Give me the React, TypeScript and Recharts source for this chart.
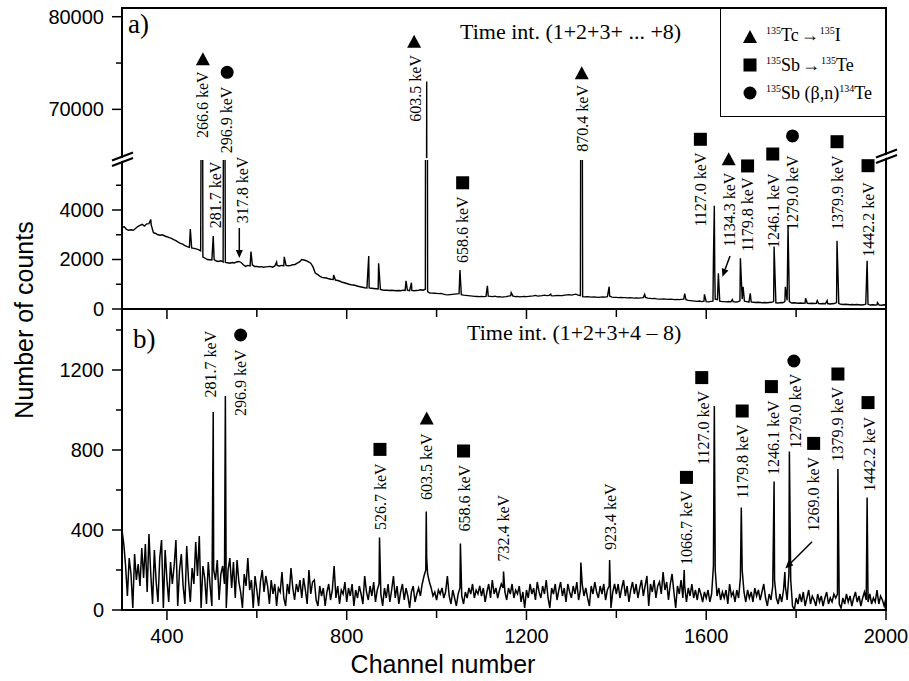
import React from 'react';
import { LineChart, Line, XAxis, YAxis, ReferenceDot, Legend } from 'recharts';

const W = 909;
const H = 681;

// ---------------- DATA ----------------
// Panel a) background, sampled every 5 channels from channel 300
const channelStartA = 300;
const channelStepA = 5;
const backgroundCountsA = [
  3300, 3320, 3220, 3180, 3200, 3180, 3250, 3330, 3380, 3420, 3350, 3440, 3450, 3400, 3080, 3050, 3000, 2980, 3000, 2950,
  2920, 2880, 2850, 2800, 2760, 2700, 2650, 2620, 2560, 2520, 2490, 2470, 2450, 2430, 2400, 2350, 2100, 2050, 2000, 1990,
  1980, 2000, 1940, 1920, 1950, 1900, 1880, 1870, 1850, 1880, 1860, 1900, 1920, 1880, 1790, 1720, 1760, 1740, 1780, 1720,
  1720, 1700, 1710, 1690, 1700, 1710, 1720, 1690, 1740, 1760, 1740, 1760, 1750, 1760, 1750, 1760, 1790, 1800, 1850, 1900,
  2000, 1980, 1950, 1900, 1850, 1700, 1450, 1400, 1330, 1280, 1260, 1250, 1220, 1200, 1190, 1170, 1150, 1120, 1080, 1060,
  1030, 1000, 980, 970, 950, 920, 900, 880, 860, 850, 850, 840, 830, 820, 810, 790, 770, 760, 760, 750,
  760, 750, 740, 750, 740, 760, 750, 760, 740, 750, 740, 750, 760, 780, 760, 800, 700, 640, 640, 635,
  630, 620, 630, 600, 580, 570, 580, 590, 600, 610, 620, 580, 560, 550, 540, 530, 520, 510, 505, 500,
  510, 500, 510, 520, 510, 500, 520, 490, 500, 480, 490, 500, 520, 540, 520, 500, 510, 490, 500, 510,
  500, 510, 520, 530, 550, 520, 530, 540, 560, 540, 550, 540, 530, 540, 550, 540, 540, 560, 570, 580,
  560, 580, 600, 560, 540, 500, 490, 500, 490, 480, 490, 480, 470, 480, 490, 480, 500, 520, 480, 470,
  470, 460, 470, 460, 460, 450, 460, 450, 440, 450, 440, 450, 460, 470, 440, 430, 420, 430, 410, 400,
  400, 410, 400, 390, 400, 390, 380, 390, 380, 390, 400, 380, 350, 340, 330, 320, 310, 320, 300, 320,
  300, 290, 310, 320, 400, 380, 320, 300, 300, 290, 300, 290, 300, 280, 290, 330, 400, 320, 300, 280,
  290, 270, 260, 270, 260, 250, 260, 250, 260, 270, 300, 250, 240, 260, 250, 300, 350, 300, 240, 250,
  240, 230, 240, 230, 240, 230, 220, 230, 220, 230, 220, 210, 220, 210, 220, 200, 210, 220, 260, 220,
  190, 180, 190, 180, 170, 180, 170, 180, 170, 160, 170, 200, 190, 160, 170, 160, 170, 160, 150, 170,
  160,
];
const peakChannelsA = [
  364, 452, 477, 478, 479, 503, 526, 528, 529, 587, 644, 661, 771, 849, 871, 932, 944, 976, 978, 979,
  1052, 1113, 1166, 1254, 1321, 1322, 1324, 1384, 1463, 1552, 1596, 1616, 1618, 1619, 1627, 1658, 1676, 1682, 1698, 1751,
  1776, 1782, 1821, 1847, 1869, 1891, 1958, 1981,
];
const peakCountsA = [
  3620, 3230, 12000, 20000, 12000, 2950, 10000, 20000, 8000, 2320, 1900, 2110, 1370, 2140, 1850, 1140, 1060, 20000, 73000, 20000,
  1575, 940, 660, 600, 12000, 20000, 10000, 900, 590, 620, 590, 2000, 4170, 1500, 1440, 380, 2050, 900, 635, 2520,
  900, 3350, 430, 340, 340, 2760, 1950, 260,
];

// Panel b) background, sampled every 4 channels from channel 300
const channelStartB = 300;
const channelStepB = 4;
const backgroundCountsB = [
  400, 330, 220, 70, 260, 180, 10, 280, 150, 230, 120, 310, 160, 330, 90, 380, 180, 30, 300, 140, 40, 260, 350, 10, 300,
  150, 40, 240, 130, 220, 350, 20, 200, 280, 120, 30, 320, 150, 40, 210, 130, 340, 170, 370, 10, 220, 160, 30, 240, 120,
  20, 200, 150, 250, 50, 180, 220, 130, 10, 200, 260, 110, 240, 60, 250, 140, 90, 10, 180, 120, 260, 100, 150, 10, 170,
  100, 20, 140, 200, 90, 170, 120, 30, 150, 80, 130, 20, 110, 90, 190, 60, 20, 130, 80, 210, 110, 50, 130, 90, 150,
  60, 160, 100, 30, 200, 80, 140, 150, 50, 20, 120, 70, 110, 20, 90, 130, 50, 100, 220, 60, 120, 30, 100, 80, 140,
  40, 110, 70, 130, 20, 100, 60, 120, 80, 30, 170, 90, 50, 120, 70, 140, 40, 100, 130, 80, 20, 110, 60, 130, 40,
  100, 170, 60, 120, 30, 90, 130, 50, 110, 70, 10, 90, 120, 40, 80, 110, 70, 130, 170, 200, 180, 140, 110, 70, 90,
  50, 100, 80, 110, 60, 90, 170, 70, 30, 100, 60, 20, 80, 110, 70, 30, 90, 60, 110, 80, 130, 60, 100, 80, 120,
  70, 110, 40, 90, 130, 60, 150, 80, 110, 60, 100, 130, 110, 90, 50, 110, 80, 130, 60, 100, 80, 120, 40, 90, 10,
  100, 60, 130, 80, 110, 50, 140, 90, 60, 120, 80, 150, 60, 10, 110, 80, 130, 50, 100, 140, 70, 110, 40, 130, 90,
  60, 120, 80, 140, 50, 100, 130, 70, 110, 60, 20, 120, 80, 140, 90, 60, 120, 80, 130, 50, 100, 120, 10, 90, 130,
  80, 130, 60, 110, 150, 70, 120, 40, 100, 140, 80, 130, 60, 110, 150, 70, 120, 170, 20, 130, 90, 150, 60, 120, 140,
  80, 190, 100, 140, 50, 130, 180, 90, 10, 120, 80, 150, 60, 120, 40, 110, 70, 130, 60, 100, 50, 110, 80, 40, 90,
  60, 100, 40, 80, 220, 200, 70, 110, 50, 90, 60, 100, 30, 130, 70, 90, 40, 100, 60, 160, 200, 90, 40, 100, 60,
  90, 40, 110, 70, 100, 50, 90, 130, 60, 20, 80, 50, 120, 150, 60, 30, 80, 40, 100, 120, 50, 180, 150, 20, 0,
  60, 30, 80, 40, 90, 20, 60, 100, 30, 70, 50, 20, 80, 40, 70, 20, 60, 90, 30, 60, 40, 80, 60, 80, 30,
  10, 60, 30, 80, 40, 70, 20, 60, 90, 40, 70, 20, 60, 90, 50, 40, 80, 30, 60, 40, 100, 30, 70, 50, 20,
  60,
];
const peakChannelsB = [503, 530, 873, 977, 978, 1053, 1149, 1321, 1385, 1551, 1618, 1678, 1751, 1775, 1785, 1893, 1958];
const peakCountsB = [990, 1070, 363, 492, 260, 333, 192, 237, 250, 200, 1020, 513, 642, 190, 792, 705, 562];

// Axis ticks
const xTicks = [400, 600, 800, 1000, 1200, 1400, 1600, 1800, 2000];
const xMajorTicks = [400, 800, 1200, 1600, 2000];
const yTicksUpperA = [70000, 75000, 80000];
const yMajorUpperA = [70000, 80000];
const yTicksLowerA = [0, 1000, 2000, 3000, 4000, 5000];
const yMajorLowerA = [0, 2000, 4000];
const yTicksB = [0, 200, 400, 600, 800, 1000, 1200, 1400];
const yMajorB = [0, 400, 800, 1200];

// Annotations: [text, channel, counts at label start]
const labelsUpperA: [string, number, number][] = [
  ['266.6 keV', 480, 66900], ['296.9 keV', 532, 65260], ['603.5 keV', 952, 68670], ['870.4 keV', 1324, 65430],
];
const labelsLowerA: [string, number, number][] = [
  ['281.7 keV', 507, 3260], ['317.8 keV', 569, 3460], ['658.6 keV', 1058, 1860], ['1127.0 keV', 1587, 3330],
  ['1134.3 keV', 1652, 2520], ['1179.8 keV', 1692, 2320], ['1246.1 keV', 1749, 2460], ['1279.0 keV', 1791, 3190],
  ['1379.9 keV', 1891, 3190], ['1442.2 keV', 1961, 2110],
];
const markersUpperA: [string, number, number][] = [
  ['tri', 480, 75400], ['circle', 534, 74000], ['tri', 950, 77300], ['tri', 1323, 73890],
  ['square', 1587, 66770], ['square', 1748, 65180], ['circle', 1792, 67130], ['square', 1891, 66510],
];
const markersLowerA: [string, number, number][] = [
  ['square', 1058, 5100], ['tri', 1650, 6050], ['square', 1692, 5780], ['square', 1960, 5790],
];
const arrowsA: [number, number, number, number][] = [[561, 2060, 0, -30], [1636, 1305, 7.6, -20.7]];
const labelsB: [string, number, number][] = [
  ['281.7 keV', 497, 1063], ['296.9 keV', 564, 970], ['526.7 keV', 875, 400], ['603.5 keV', 978, 550],
  ['658.6 keV', 1063, 392], ['732.4 keV', 1150, 242], ['923.4 keV', 1387, 300], ['1066.7 keV', 1557, 225],
  ['1127.0 keV', 1594, 725], ['1179.8 keV', 1681, 558], ['1246.1 keV', 1750, 675], ['1279.0 keV', 1798, 808],
  ['1269.0 keV', 1839, 392], ['1379.9 keV', 1892, 742], ['1442.2 keV', 1963, 592],
];
const markersB: [string, number, number][] = [
  ['circle', 564, 1375], ['square', 874, 803], ['tri', 978, 958], ['square', 1060, 795], ['square', 1556, 663],
  ['square', 1590, 1162], ['square', 1680, 995], ['square', 1745, 1117], ['circle', 1795, 1245],
  ['square', 1839, 833], ['square', 1893, 1180], ['square', 1960, 1037],
];
const arrowsB: [number, number, number, number][] = [[1776, 208, 26.7, -26.6]];

// ---------------- BUILD ----------------
function buildSeries(start: number, step: number, bg: number[], pch: number[], pct: number[]) {
  const pts = bg.map((c, i) => ({ ch: start + i * step, counts: c }));
  pch.forEach((c, i) => pts.push({ ch: c, counts: pct[i] }));
  pts.sort((a, b) => a.ch - b.ch);
  return pts;
}
const dataA = buildSeries(channelStartA, channelStepA, backgroundCountsA, peakChannelsA, peakCountsA);
const dataB = buildSeries(channelStartB, channelStepB, backgroundCountsB, peakChannelsB, peakCountsB);

const serif = "'Liberation Serif', 'Times New Roman', Times, serif";
const sans = "'Liberation Sans', Arial, Helvetica, sans-serif";

const MarkerShape = ({ cx, cy, kind }: any) => {
  if (kind === 'tri')
    return <polygon points={`${cx},${cy - 7} ${cx - 7},${cy + 6} ${cx + 7},${cy + 6}`} fill="#000" />;
  if (kind === 'square') return <rect x={cx - 6.5} y={cy - 6.5} width={13} height={13} fill="#000" />;
  return <circle cx={cx} cy={cy} r={6.5} fill="#000" />;
};

const LabelShape = ({ cx, cy, text }: any) => (
  <text
    x={cx}
    y={cy}
    transform={`rotate(-90 ${cx} ${cy})`}
    fontSize={16}
    fontFamily={serif}
    dominantBaseline="central"
    fill="#000"
  >
    {text}
  </text>
);

const ArrowShape = ({ cx, cy, dx, dy }: any) => {
  const len = Math.sqrt(dx * dx + dy * dy);
  const ux = -dx / len;
  const uy = -dy / len;
  const hl = 8;
  const hw = 3.5;
  const bx = cx - ux * hl;
  const by = cy - uy * hl;
  return (
    <g>
      <line x1={cx + dx} y1={cy + dy} x2={bx} y2={by} stroke="#000" strokeWidth={1.5} />
      <polygon
        points={`${cx},${cy} ${bx - uy * hw},${by + ux * hw} ${bx + uy * hw},${by - ux * hw}`}
        fill="#000"
      />
    </g>
  );
};

const renderYTick = (p: any, majors: number[]) => {
  const v = p.payload.value;
  const major = majors.includes(v);
  return (
    <g>
      <line x1={p.x - (major ? 10 : 6)} x2={p.x} y1={p.y} y2={p.y} stroke="#000" strokeWidth={1.5} />
      {major && (
        <text x={p.x - 18} y={p.y} dy={7} textAnchor="end" fontSize={20} fontFamily={sans} fill="#000">
          {v}
        </text>
      )}
    </g>
  );
};

const renderXTick = (p: any, withLabels: boolean) => {
  const v = p.payload.value;
  const major = xMajorTicks.includes(v);
  return (
    <g>
      <line x1={p.x} x2={p.x} y1={p.y} y2={p.y + (major ? 10 : 8)} stroke="#000" strokeWidth={1.5} />
      {withLabels && major && (
        <text x={p.x} y={p.y + 33} textAnchor="middle" fontSize={20} fontFamily={sans} fill="#000">
          {v}
        </text>
      )}
    </g>
  );
};

const renderLabels = (list: [string, number, number][], pre: string) =>
  list.map(([t, ch, c], i) => (
    <ReferenceDot
      key={pre + 'l' + i}
      x={ch}
      y={c}
      r={0}
      ifOverflow="visible"
      shape={(p: any) => <LabelShape cx={p.cx} cy={p.cy} text={t} />}
    />
  ));
const renderMarkers = (list: [string, number, number][], pre: string) =>
  list.map(([k, ch, c], i) => (
    <ReferenceDot
      key={pre + 'm' + i}
      x={ch}
      y={c}
      r={0}
      ifOverflow="visible"
      shape={(p: any) => <MarkerShape cx={p.cx} cy={p.cy} kind={k} />}
    />
  ));
const renderArrows = (list: [number, number, number, number][], pre: string) =>
  list.map(([ch, c, dx, dy], i) => (
    <ReferenceDot
      key={pre + 'a' + i}
      x={ch}
      y={c}
      r={0}
      ifOverflow="visible"
      shape={(p: any) => <ArrowShape cx={p.cx} cy={p.cy} dx={dx} dy={dy} />}
    />
  ));

const LegendBox = () => (
  <div
    style={{
      width: 166,
      height: 109,
      boxSizing: 'border-box',
      border: '1.5px solid #000',
      background: '#fff',
    }}
  >
    <svg width={163} height={106} style={{ display: 'block' }}>
      <MarkerShape cx={29} cy={28} kind="tri" />
      <MarkerShape cx={29} cy={56} kind="square" />
      <MarkerShape cx={29} cy={84} kind="circle" />
      <text x={45} y={32} fontFamily={serif} fontSize={18} fill="#000">
        <tspan fontSize={10} dy={-7}>135</tspan>
        <tspan dy={7}>Tc</tspan>
        <tspan dx={2}>→</tspan>
        <tspan fontSize={10} dy={-7} dx={1}>135</tspan>
        <tspan dy={7}>I</tspan>
      </text>
      <text x={45} y={62} fontFamily={serif} fontSize={18} fill="#000">
        <tspan fontSize={10} dy={-7}>135</tspan>
        <tspan dy={7}>Sb</tspan>
        <tspan dx={2}>→</tspan>
        <tspan fontSize={10} dy={-7} dx={1}>135</tspan>
        <tspan dy={7}>Te</tspan>
      </text>
      <text x={45} y={90} fontFamily={serif} fontSize={18} fill="#000">
        <tspan fontSize={10} dy={-7}>135</tspan>
        <tspan dy={7}>Sb (β,n)</tspan>
        <tspan fontSize={10} dy={-7}>134</tspan>
        <tspan dy={7}>Te</tspan>
      </text>
    </svg>
  </div>
);

const abs: React.CSSProperties = { position: 'absolute', left: 0, top: 0 };

export default function App() {
  return (
    <div style={{ position: 'absolute', left: 0, top: 0, width: W, height: H, background: '#fff' }}>
      {/* Panel a) upper part (above the axis break) */}
      <div style={abs}>
        <LineChart width={W} height={H} data={dataA} margin={{ top: 8, right: 23, bottom: 523, left: 62 }}>
          <XAxis type="number" dataKey="ch" domain={[300, 2000]} allowDataOverflow hide />
          <YAxis
            type="number"
            domain={[64750, 80940]}
            allowDataOverflow
            width={60}
            ticks={yTicksUpperA}
            interval={0}
            axisLine={false}
            tickLine={false}
            tickSize={0}
            tickMargin={0}
            tick={(p: any) => renderYTick(p, yMajorUpperA)}
          />
          <Line type="linear" dataKey="counts" stroke="#000" strokeWidth={1.4} dot={false} isAnimationActive={false} />
          {renderLabels(labelsUpperA, 'ua')}
          {renderMarkers(markersUpperA, 'ua')}
          <Legend
            layout="vertical"
            align="center"
            verticalAlign="middle"
            content={() => <LegendBox />}
            wrapperStyle={{ position: 'absolute', left: 720, top: 8, width: 166, height: 109 }}
          />
        </LineChart>
      </div>
      {/* Panel a) lower part (below the axis break) */}
      <div style={abs}>
        <LineChart width={W} height={H} data={dataA} margin={{ top: 160, right: 23, bottom: 362, left: 62 }}>
          <XAxis
            type="number"
            dataKey="ch"
            domain={[300, 2000]}
            allowDataOverflow
            height={10}
            ticks={xTicks}
            interval={0}
            axisLine={false}
            tickLine={false}
            tickSize={0}
            tickMargin={0}
            tick={(p: any) => renderXTick(p, false)}
          />
          <YAxis
            type="number"
            domain={[0, 6020]}
            allowDataOverflow
            width={60}
            ticks={yTicksLowerA}
            interval={0}
            axisLine={false}
            tickLine={false}
            tickSize={0}
            tickMargin={0}
            tick={(p: any) => renderYTick(p, yMajorLowerA)}
          />
          <Line type="linear" dataKey="counts" stroke="#000" strokeWidth={1.4} dot={false} isAnimationActive={false} />
          {renderLabels(labelsLowerA, 'la')}
          {renderMarkers(markersLowerA, 'la')}
          {renderArrows(arrowsA, 'la')}
        </LineChart>
      </div>
      {/* Panel b) */}
      <div style={abs}>
        <LineChart width={W} height={H} data={dataB} margin={{ top: 309, right: 23, bottom: 31, left: 62 }}>
          <XAxis
            type="number"
            dataKey="ch"
            domain={[300, 2000]}
            allowDataOverflow
            height={40}
            ticks={xTicks}
            interval={0}
            axisLine={false}
            tickLine={false}
            tickSize={0}
            tickMargin={0}
            tick={(p: any) => renderXTick(p, true)}
          />
          <YAxis
            type="number"
            domain={[0, 1505]}
            allowDataOverflow
            width={60}
            ticks={yTicksB}
            interval={0}
            axisLine={false}
            tickLine={false}
            tickSize={0}
            tickMargin={0}
            tick={(p: any) => renderYTick(p, yMajorB)}
          />
          <Line type="linear" dataKey="counts" stroke="#000" strokeWidth={1.5} dot={false} isAnimationActive={false} />
          {renderLabels(labelsB, 'b')}
          {renderMarkers(markersB, 'b')}
          {renderArrows(arrowsB, 'b')}
        </LineChart>
      </div>
      {/* Frames, axis break marks, titles */}
      <svg width={W} height={H} style={{ ...abs, pointerEvents: 'none' }}>
        <rect x={122} y={8} width={764} height={301} fill="none" stroke="#000" strokeWidth={2} />
        <rect x={122} y={309} width={764} height={301} fill="none" stroke="#000" strokeWidth={2} />
        <polygon points="113,164.5 132,157 132,154 113,161.5" fill="#fff" />
        <line x1={112} y1={166} x2={133} y2={158} stroke="#000" strokeWidth={2} />
        <line x1={112} y1={160.5} x2={133} y2={152.5} stroke="#000" strokeWidth={2} />
        <polygon points="877,161.5 896,154 896,151 877,158.5" fill="#fff" />
        <line x1={876} y1={163} x2={897} y2={155} stroke="#000" strokeWidth={2} />
        <line x1={876} y1={157.5} x2={897} y2={149.5} stroke="#000" strokeWidth={2} />
        <text x={128} y={33} fontFamily={serif} fontSize={27} fill="#000">a)</text>
        <text x={133} y={348} fontFamily={serif} fontSize={27} fill="#000">b)</text>
        <text x={460} y={39} fontFamily={serif} fontSize={22} fill="#000">Time int. (1+2+3+ ... +8)</text>
        <text x={467} y={340} fontFamily={serif} fontSize={22} fill="#000">Time int. (1+2+3+4 – 8)</text>
        <text
          x={33}
          y={320}
          transform="rotate(-90 33 320)"
          textAnchor="middle"
          fontFamily={sans}
          fontSize={25}
          fill="#000"
        >
          Number of counts
        </text>
        <text x={443} y={673} textAnchor="middle" fontFamily={sans} fontSize={25} fill="#000">
          Channel number
        </text>
      </svg>
    </div>
  );
}
